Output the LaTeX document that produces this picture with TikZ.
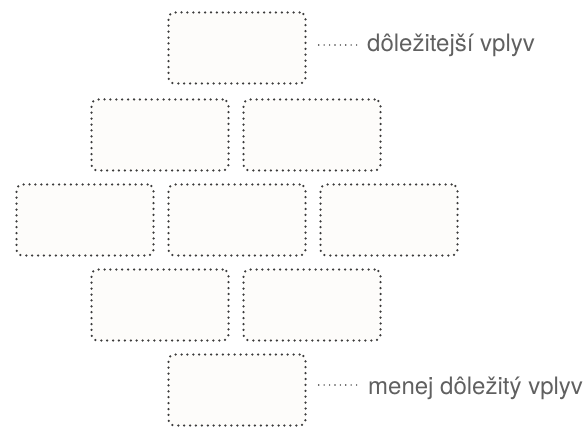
\documentclass[tikz,border=0pt]{standalone}
\usepackage{fontspec}
\setmainfont{TeX Gyre Heros}
\usepackage{xcolor}
\usetikzlibrary{positioning}
\definecolor{dotgray}{RGB}{60, 60, 60}
\definecolor{boxfill}{RGB}{253, 252, 250}
\definecolor{labelgray}{RGB}{96, 96, 96}

\begin{document}
\begin{tikzpicture}[
  x=1pt, y=1pt,
  block/.style={draw=dotgray, fill=boxfill, rounded corners=6pt,
    line width=2.5pt, line cap=round, dash pattern=on 0pt off 5.9pt,
    minimum width=137pt, minimum height=71pt},
  leader/.style={draw=dotgray, line width=1.6pt, line cap=round,
    dash pattern=on 0pt off 5.4pt},
  caption/.style={font=\fontsize{24}{28}\selectfont, text=labelgray,
    inner sep=0pt, anchor=base west}
]
\useasboundingbox (0,0) rectangle (585,-427);

% pyramid of blocks
\node[block] (top) at (237,-48) {};
\node[block] (midl) at (160,-135) {};
\node[block] (midr) at (312,-135) {};
\node[block] (rowl) at (85,-220) {};
\node[block] (rowc) at (237,-220) {};
\node[block] (rowr) at (389,-220) {};
\node[block] (lowl) at (160,-305) {};
\node[block] (lowr) at (312,-305) {};
\node[block] (bottom) at (237,-390) {};

% labels
\node[caption] (more) at (367,-52) {dôležitejší vplyv};
\node[caption] (less) at (368,-394) {menej dôležitý vplyv};
\coordinate (moreend) at ([xshift=12pt,yshift=3pt]top.east);
\coordinate (lessend) at ([xshift=12pt,yshift=5pt]bottom.east);
\draw[leader] (moreend) -- ++(38pt,0);
\draw[leader] (lessend) -- ++(38pt,0);
\end{tikzpicture}
\end{document}
